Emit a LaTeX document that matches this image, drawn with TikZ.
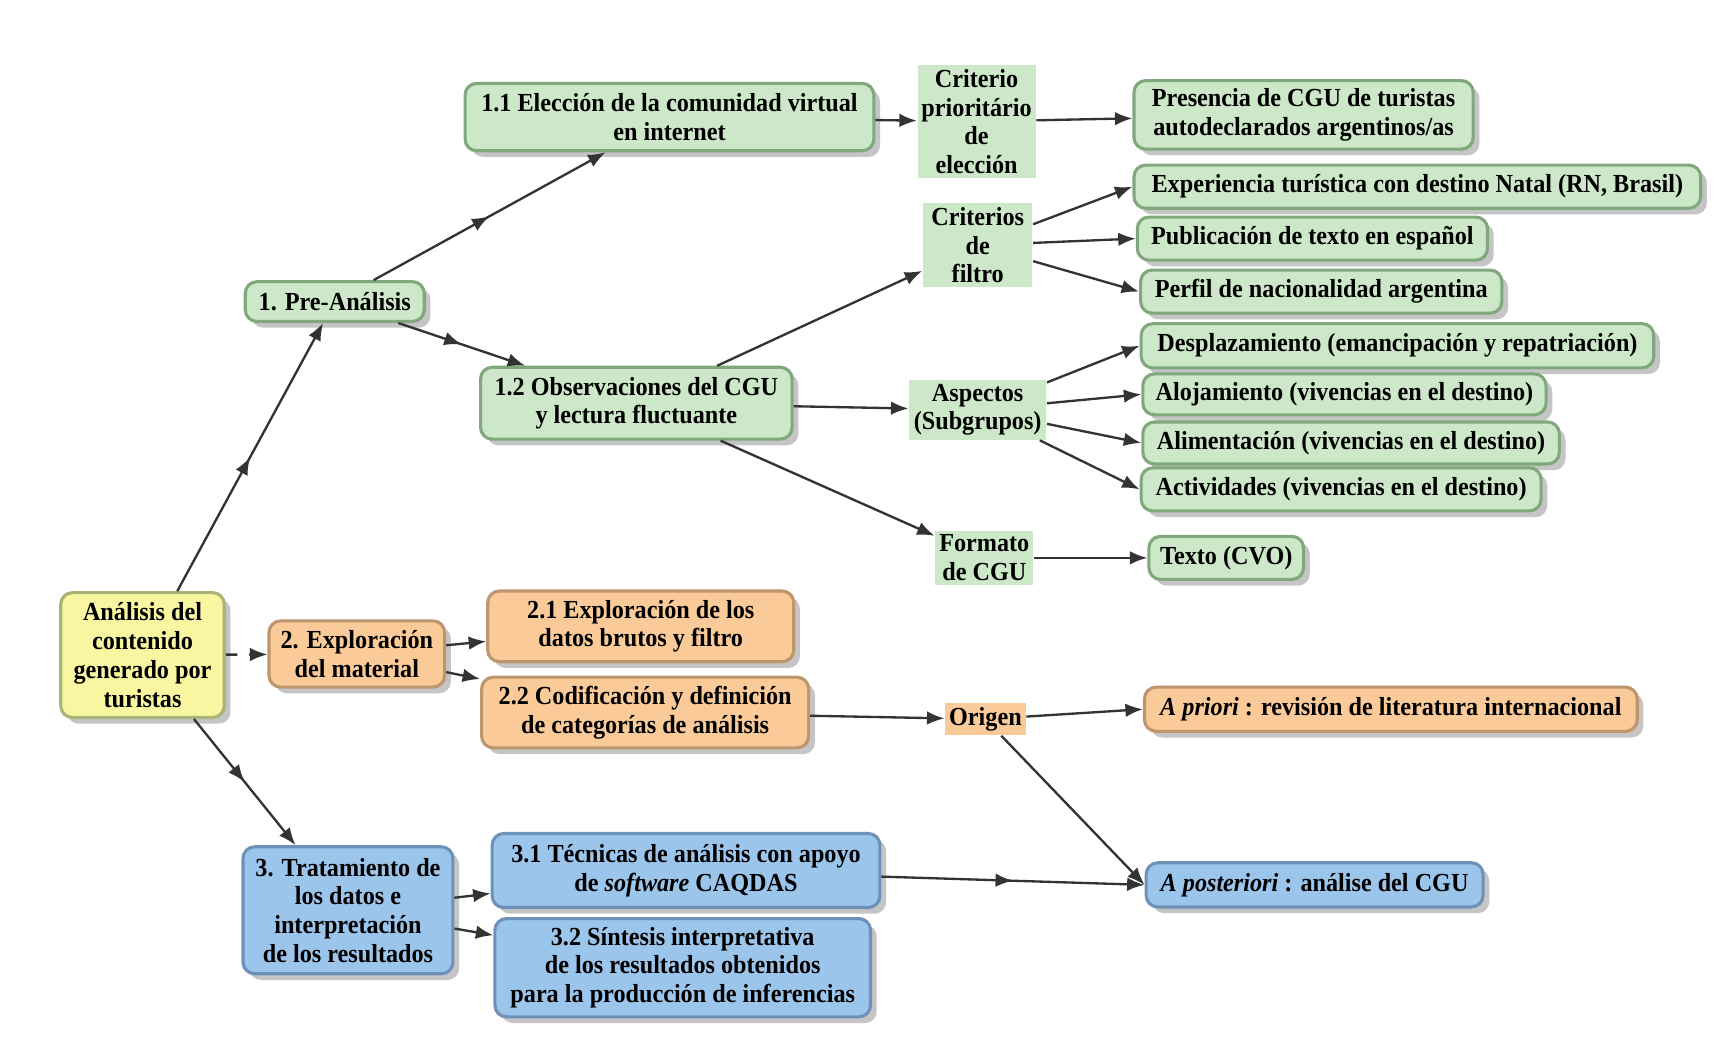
\documentclass[tikz,border=0pt]{standalone}
\usepackage{fontspec}
\setmainfont[FakeStretch=0.93]{Liberation Serif}
\usetikzlibrary{arrows.meta,shadows,decorations.markings}
\definecolor{gfill}{RGB}{205,232,200}
\definecolor{gline}{RGB}{128,168,124}
\definecolor{ofill}{RGB}{250,202,152}
\definecolor{oline}{RGB}{190,150,110}
\definecolor{bfill}{RGB}{156,197,236}
\definecolor{bline}{RGB}{110,145,185}
\definecolor{yfill}{RGB}{248,246,160}
\definecolor{yline}{RGB}{170,180,120}
\tikzset{
  box/.style={rounded corners=3pt, line width=0.8pt, align=center, inner sep=2pt,
    font=\fontsize{6.7}{7.4}\selectfont\bfseries,
    drop shadow={shadow xshift=1.6pt, shadow yshift=-1.6pt, fill=black!45}},
  gbox/.style={box, fill=gfill, draw=gline},
  obox/.style={box, fill=ofill, draw=oline},
  bbox/.style={box, fill=bfill, draw=bline},
  ybox/.style={box, fill=yfill, draw=yline},
  tag/.style={align=center, inner sep=1pt, font=\fontsize{6.7}{7.4}\selectfont\bfseries},
  tip/.style={-{Latex[length=4.5pt,width=3.5pt]}},
  link/.style={tip, draw=black!80, line width=0.6pt},
  midlink/.style={postaction={decorate}, decoration={markings,
    mark=at position 0.5 with {\arrow{Latex[length=4.5pt,width=3.5pt]}}}},
}
\begin{document}
\begin{tikzpicture}
      \fill[white] (0,0) rectangle (15.66,-9.51);
      \useasboundingbox (0,0) rectangle (15.66,-9.51);
      \path
        (1.29,-5.93) node[ybox, minimum width=1.48cm, minimum height=1.13cm] (root) {An\'alisis del\\contenido\\generado por\\turistas}
        (3.03,-2.73) node[gbox, minimum width=1.62cm, minimum height=0.36cm] (pre) {1. Pre-An\'alisis}
        (6.06,-1.06) node[gbox, minimum width=3.70cm, minimum height=0.61cm] (e11) {1.1 Elecci\'on de la comunidad virtual\\en internet}
        (5.76,-3.65) node[gbox, minimum width=2.82cm, minimum height=0.65cm] (e12) {1.2 Observaciones del CGU\\y lectura fluctuante}
        (8.84,-1.10) node[tag, fill=gfill, minimum width=1.02cm, minimum height=0.95cm] (crit) {Criterio\\priorit\'ario\\de\\elecci\'on}
        (11.80,-1.04) node[gbox, minimum width=3.07cm, minimum height=0.62cm] (pres) {Presencia de CGU de turistas\\autodeclarados argentinos/as}
        (8.85,-2.22) node[tag, fill=gfill, minimum width=0.99cm, minimum height=0.70cm] (filtro) {Criterios\\de\\filtro}
        (12.83,-1.69) node[gbox, minimum width=5.13cm, minimum height=0.39cm] (exp) {Experiencia tur\'istica con destino Natal (RN, Brasil)}
        (11.88,-2.16) node[gbox, minimum width=3.17cm, minimum height=0.39cm] (pub) {Publicaci\'on de texto en espa\~nol}
        (11.96,-2.64) node[gbox, minimum width=3.27cm, minimum height=0.39cm] (perf) {Perfil de nacionalidad argentina}
        (8.85,-3.71) node[tag, fill=gfill, minimum width=1.24cm, minimum height=0.53cm] (asp) {Aspectos\\(Subgrupos)}
        (12.65,-3.13) node[gbox, minimum width=4.64cm, minimum height=0.40cm] (desp) {Desplazamiento (emancipaci\'on y repatriaci\'on)}
        (12.17,-3.57) node[gbox, minimum width=3.65cm, minimum height=0.37cm] (aloj) {Alojamiento (vivencias en el destino)}
        (12.23,-4.01) node[gbox, minimum width=3.77cm, minimum height=0.38cm] (alim) {Alimentaci\'on (vivencias en el destino)}
        (12.14,-4.43) node[gbox, minimum width=3.62cm, minimum height=0.39cm] (activ) {Actividades (vivencias en el destino)}
        (8.91,-5.05) node[tag, fill=gfill, minimum width=0.87cm, minimum height=0.47cm] (form) {Formato\\de CGU}
        (11.10,-5.05) node[gbox, minimum width=1.40cm, minimum height=0.39cm] (texto) {Texto (CVO)}
        (3.23,-5.92) node[obox, minimum width=1.59cm, minimum height=0.60cm] (e2) {2. Exploraci\'on\\del material}
        (5.80,-5.67) node[obox, minimum width=2.77cm, minimum height=0.64cm] (e21) {2.1 Exploraci\'on de los\\datos brutos y filtro}
        (5.84,-6.45) node[obox, minimum width=2.96cm, minimum height=0.64cm] (e22) {2.2 Codificaci\'on y definici\'on\\de categor\'ias de an\'alisis}
        (8.92,-6.51) node[tag, fill=ofill, minimum width=0.69cm, minimum height=0.23cm] (orig) {Origen}
        (12.59,-6.42) node[obox, minimum width=4.46cm, minimum height=0.40cm] (apri) {{\itshape A priori} : revisi\'on de literatura internacional}
        (3.15,-8.24) node[bbox, minimum width=1.90cm, minimum height=1.15cm] (e3) {3. Tratamiento de\\los datos e\\interpretaci\'on\\de los resultados}
        (6.21,-7.88) node[bbox, minimum width=3.51cm, minimum height=0.67cm] (e31) {3.1 T\'ecnicas de an\'alisis con apoyo\\de {\itshape software} CAQDAS}
        (6.18,-8.76) node[bbox, minimum width=3.40cm, minimum height=0.89cm] (e32) {3.2 S\'intesis interpretativa\\de los resultados obtenidos\\para la producci\'on de inferencias}
        (11.90,-8.01) node[bbox, minimum width=3.05cm, minimum height=0.40cm] (apost) {{\itshape A posteriori} : an\'alise del CGU};
      \begin{scope}[link]
        \draw[midlink] (root) to (pre);
        \draw[midlink] (pre) to (e11);
        \draw[midlink] (pre) to (e12);
        \draw (e11) to (crit);
        \draw (crit) to (pres);
        \draw (e12) to (filtro);
        \draw (filtro) to (exp.west);
        \draw (filtro) to (pub.west);
        \draw (filtro) to (perf.west);
        \draw (e12) to (asp);
        \draw (asp) to (desp.west);
        \draw (asp) to (aloj.west);
        \draw (asp) to (alim.west);
        \draw (asp) to (activ.west);
        \draw (e12) to (form);
        \draw (form) to (texto);
        \draw[dashed] (root) to (e2);
        \draw (e2) to (e21);
        \draw (e2) to (e22);
        \draw (e22) to (orig);
        \draw (orig) to (apri.west);
        \draw (orig) to (apost.west);
        \draw[midlink] (root) to (e3);
        \draw (e3) to (e31);
        \draw (e3) to (e32);
        \draw[midlink] (e31) to (apost.west);
      \end{scope}
    \end{tikzpicture}
\end{document}
